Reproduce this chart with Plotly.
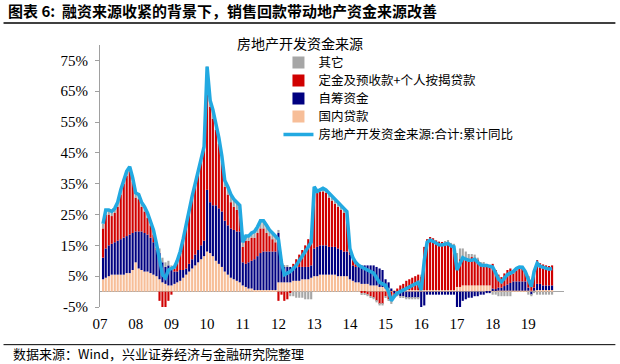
import pandas as pd
import plotly.graph_objects as go

# Monthly observations, Feb-2007 .. Sep-2019 (percentage points / %)
months = pd.date_range("2007-02-01", periods=152, freq="MS")

other = [  # 其它
    1.5, 1.5, 1.5, 1.5, 1.5, 1.5, 1.5, 1.5, 1.5, 1.5, 1.5,
    1.5, 1.5, 1.5, 1.5, 1.5, 1.5, 1.5, 1.5, 1.5, 1.5, 1.5, 1.5,
    1, 0.5, 0.5, 0.5, 0.5, 0.5, 0.5, 0.5, 0.5, 0.5, 1, 1,
    0.5, 2, 3, 2.5, 2, 2, 2, 2.5, 2.5, 2.5, 2.5, 2,
    1.5, 1.5, 1.5, 1.5, 2, 2, 2.5, 2.5, 2.5, 2, 2, 2,
    1, 0.5, 0.5, 0.5, -1, -1.5, -2, -2, -2, -2.5, -2.5, -2.5,
    0.5, 0.5, 0.5, 1, 1, 1.5, 1.5, 1.5, 1.5, 1.5, 1.5, 1,
    0.5, 0.5, 0, 0, -0.5, -0.5, -0.5, -0.5, -0.5, -0.5, -0.5, -0.5,
    -0.5, -0.5, -1, -1, -0.5, -0.5, -0.5, -0.5, -0.5, -0.5, -0.5, -0.5,
    0.5, 0, 0, 0, 0, 0, 0, 0, 0.5, 0.5, 1, 2,
    3, 3.5, 3, 2, 1.5, 1, 1, 0.5, 0.5, 0.5, 0.5, 0.5,
    -1, -1, -1.5, -1.5, -1.5, -1.5, -1.5, 0.5, 0.5, 0.5, 0.5, 0,
    -1, -0.5, -0.5, -1, -1, -1, -1, -1, -1,
]

deposits = [  # 定金及预收款+个人按揭贷款
    9.5, 11, 10, 9, 9.5, 11, 14.5, 17.5, 19.5, 20.5, 16.5,
    11, 10.5, 8, 7, 5.5, 4, 2.5, 0.5, -3, -5, -5, -3,
    -1, 1, 3, 5.5, 9.5, 14, 17.5, 20, 22.5, 25, 27.5, 29.5,
    39.5, 31, 28, 24.5, 21, 16, 11, 10, 8.5, 7.5, 7, 6.5,
    5, 7.5, 7, 7.5, 7, 7.5, 8, 7.5, 6, 5, 4, 3,
    -3, -1, -3, -2.5, -0.5, 1, 2.5, 4, 5.5, 7, 9, 10,
    19.5, 17.5, 17.5, 17.5, 17, 16, 15, 14, 13.5, 13, 12.5, 12,
    1.5, 2, 1.5, 0.5, -0.5, -0.5, -1, -1.5, -2, -3, -4, -4,
    -1.5, -2.5, -3, -0.5, 0.5, 1.5, 2, 3, 3.5, 4, 4.5, 5,
    4.5, 14, 16.5, 17.2, 16.8, 16.1, 15.7, 15.6, 15.3, 15.6, 14.3, 13,
    8, 9, 9, 9, 8.7, 9.2, 9, 8.5, 7.1, 7, 6.5, 6.2,
    8, 6.2, 4.2, 3.4, 4.1, 4.7, 4.7, 2.7, 3.7, 4.2, 4.1, 3.2,
    3.7, 2.8, 5.7, 7.7, 6.7, 6.8, 6.5, 6.3, 6.5,
]

self_raised = [  # 自筹资金
    7, 9.5, 10, 10, 10.5, 11, 11.5, 12, 12, 12.5, 12,
    10, 12, 12.5, 12.5, 12, 11.5, 10.5, 8.5, 8.5, 6.5, 5.5, 6.5,
    5.5, 4, 3.5, 3.5, 2.5, 2, 2.5, 3, 3.5, 4, 4.5, 5,
    20, 16.5, 16.5, 18, 18, 18, 16.5, 16, 16, 16, 16, 16.5,
    7.5, 7.5, 8.5, 9, 10, 11, 12, 12.5, 12.5, 12.5, 12.5, 12.5,
    16, 7, 5, 5, 5, 4.5, 4.5, 4.5, 4, 4, 4, 4,
    9, 9.5, 9.5, 9.5, 9.5, 9, 9, 9, 9, 8.5, 8, 8,
    8, 5, 5, 5, 6, 6, 6, 6.5, 6.5, 6, 6, 5.5,
    3, 2, 0.5, -0.5, -1, -1.5, -1.5, -2, -2, -2, -2, -2,
    -5, -4.5, -1, -1, -1, -1, -1, -1, -1, -1, -1, -1,
    -5.5, -5, -3, -2.5, -2, -2, -1.5, -1.5, -1, -1, -0.5, -0.5,
    0.5, 0.5, 1, 1, 1.5, 2, 2.5, 3, 3, 3, 3, 3,
    1, -1, 1, 2, 2, 1.5, 1.5, 1.5, 1.5,
]

domestic_loans = [  # 国内贷款
    4, 4.5, 5, 5.5, 5.5, 5.5, 5.5, 5.5, 6, 6, 7,
    9.5, 7.5, 7, 6.5, 6.5, 6, 5.5, 5, 4, 3, 2.5, 2,
    2, 2.5, 3, 3.5, 4.5, 5.5, 6.5, 7.5, 8.5, 9.5, 10.5, 11.5,
    13, 12.5, 11.5, 10, 9, 8, 6.5, 5.5, 4.5, 4, 3.5, 3,
    2, 1.5, 1, 1, 0.5, 0.5, 0.5, 0.5, 0.5, 0.5, 0.5, 0.5,
    3, 3, 3, 3, 3, 3.5, 3.5, 3.5, 4, 4, 4, 4.5,
    5, 5, 5.5, 5.5, 5.5, 5.5, 5.5, 5.5, 5, 5, 5, 5,
    4, 3.5, 3, 3, 2.5, 2.5, 2.5, 2, 2, 2, 1.5, 1.5,
    1, 1, 0.5, 0.5, 0.5, 0.5, 0.5, 0.5, 0.5, 0.5, 0.5, 0.5,
    0.5, 0.5, 0.5, 0.5, 0.5, 0.5, 0.5, 0.5, 0.5, 0.5, 0.5, 0.5,
    1.5, 1.5, 2, 2, 2, 2, 2, 2, 2, 2, 2, 2,
    0.5, 0.3, 0.3, 0.3, 0.3, 0.3, 0.3, 0.3, 0.3, 0.3, 0.3, 0.3,
    0.3, 0.3, 0.3, 0.5, 0.5, 0.5, 0.5, 0.5, 0.5,
]

total_yoy = [  # 房地产开发资金来源:合计:累计同比
    22, 26.5, 26.5, 26, 27, 29, 33, 36.5, 39, 40.5, 37,
    32, 31.5, 29, 27.5, 25.5, 23, 20, 15.5, 11, 5.5, 4.5, 7,
    7.5, 8, 10, 13, 17, 22, 27, 31, 35, 39, 43.5, 47,
    73, 62, 59, 55, 50, 44, 36, 34, 31.5, 30, 29, 28,
    16, 18, 18, 19, 19.5, 21, 23, 23, 21.5, 20, 19, 18,
    17, 9.5, 5.5, 6, 6.5, 7.5, 8.5, 10, 11.5, 12.5, 14.5, 16,
    34, 32.5, 33, 33.5, 33, 32, 31, 30, 29, 28, 27, 26,
    14, 11, 9.5, 8.5, 8, 7.5, 7, 6.5, 6, 4.5, 3, 2.5,
    2, 0, -3, -1.5, -0.5, 0, 0.5, 1, 1.5, 2, 2.5, 3,
    0.5, 10, 16, 16.7, 16.3, 15.6, 15.2, 15.1, 15.3, 15.6, 14.8, 14.5,
    7, 9, 11, 10.5, 10.2, 10.2, 10.5, 9.5, 8.6, 8.5, 8.5, 8.2,
    8, 6, 4, 3.2, 4.4, 5.5, 6, 6.5, 7.5, 8, 7.9, 6.5,
    4, 1.6, 6.5, 9.2, 8.2, 7.8, 7.5, 7.3, 7.5,
]

year_ticks = [f"{y}-01-01" for y in range(2007, 2020)]
year_labels = ["07", "08", "09", "10", "11", "12", "13", "14", "15", "16", "17", "18", "19"]
y_ticks = [-5, 5, 15, 25, 35, 45, 55, 65, 75]
y_labels = [f"{v}%" for v in y_ticks]

CJK = "Noto Sans CJK SC"
SERIF = "Times New Roman, Liberation Serif, serif"

L, R, T, B = 99.5, 56.4, 45, 56.7
W, H = 620, 364
pw, ph = W - L - R, H - T - B


def px_x(p):
    return (p - L) / pw


def px_y(p):
    return (H - B - p) / ph


fig = go.Figure()
fig.add_trace(go.Bar(x=months, y=domestic_loans, name="国内贷款", legend="legend4",
                     marker=dict(color="#F7BE98", line=dict(width=0))))
fig.add_trace(go.Bar(x=months, y=self_raised, name="自筹资金", legend="legend3",
                     marker=dict(color="#000080", line=dict(width=0))))
fig.add_trace(go.Bar(x=months, y=deposits, name="定金及预收款+个人按揭贷款", legend="legend2",
                     marker=dict(color="#D00000", line=dict(width=0))))
fig.add_trace(go.Bar(x=months, y=other, name="其它", legend="legend",
                     marker=dict(color="#A6A6A6", line=dict(width=0))))
fig.add_trace(go.Scatter(x=months, y=total_yoy, name="房地产开发资金来源:合计:累计同比",
                         legend="legend5", mode="lines",
                         line=dict(color="#22A9E1", width=3.5)))

row_centers = [63, 81, 99, 117, 135]


def legend_box(yc):
    return dict(x=px_x(278), y=px_y(yc), xanchor="left", yanchor="middle",
                bgcolor="rgba(0,0,0,0)", borderwidth=0,
                font=dict(family=CJK, size=12.5, color="#000000"), itemwidth=30)


fig.update_layout(
    width=W, height=H,
    margin=dict(l=L, r=R, t=T, b=B, autoexpand=False),
    paper_bgcolor="white", plot_bgcolor="white",
    barmode="relative", bargap=0.22,
    showlegend=True,
    title=dict(text="<b>图表 6:  融资来源收紧的背景下，销售回款带动地产资金来源改善</b>",
               x=8 / W, xanchor="left", y=1 - 12 / H, yanchor="middle",
               font=dict(family=CJK, size=15, color="#000000")),
    legend=legend_box(row_centers[0]),
    legend2=legend_box(row_centers[1]),
    legend3=legend_box(row_centers[2]),
    legend4=legend_box(row_centers[3]),
    legend5=legend_box(row_centers[4]),
    xaxis=dict(type="date", range=["2007-01-01", "2020-01-01"],
               tickvals=year_ticks, ticktext=year_labels,
               showgrid=False, showline=False, ticks="", zeroline=False,
               tickfont=dict(family=SERIF, size=15, color="#000000"),
               ticklabelstandoff=6),
    yaxis=dict(range=[-5, 80], tickvals=y_ticks, ticktext=y_labels,
               showgrid=False, showline=True, linecolor="#A0A0A0", linewidth=1,
               ticks="outside", ticklen=4, tickcolor="#A0A0A0",
               zeroline=True, zerolinecolor="#A6A6A6", zerolinewidth=1,
               tickfont=dict(family=SERIF, size=15, color="#000000"),
               ticklabelstandoff=4),
    annotations=[
        dict(text="房地产开发资金来源", xref="paper", yref="paper",
             x=px_x(235), y=px_y(42.5), xanchor="left", yanchor="middle",
             showarrow=False, font=dict(family=CJK, size=14, color="#000000")),
        dict(text="数据来源：Wind，兴业证券经济与金融研究院整理", xref="paper", yref="paper",
             x=px_x(10), y=px_y(354), xanchor="left", yanchor="middle",
             showarrow=False, font=dict(family=CJK, size=13, color="#000000")),
    ],
    shapes=[
        dict(type="line", xref="paper", yref="paper", x0=px_x(3), x1=px_x(615),
             y0=px_y(23), y1=px_y(23), line=dict(color="#000000", width=1.5)),
        dict(type="line", xref="paper", yref="paper", x0=px_x(3), x1=px_x(615),
             y0=px_y(345), y1=px_y(345), line=dict(color="#000000", width=1)),
    ],
)

fig.write_html("out.html", config={"displayModeBar": False},
               post_script="document.body.style.margin='0';document.body.style.padding='0';")
